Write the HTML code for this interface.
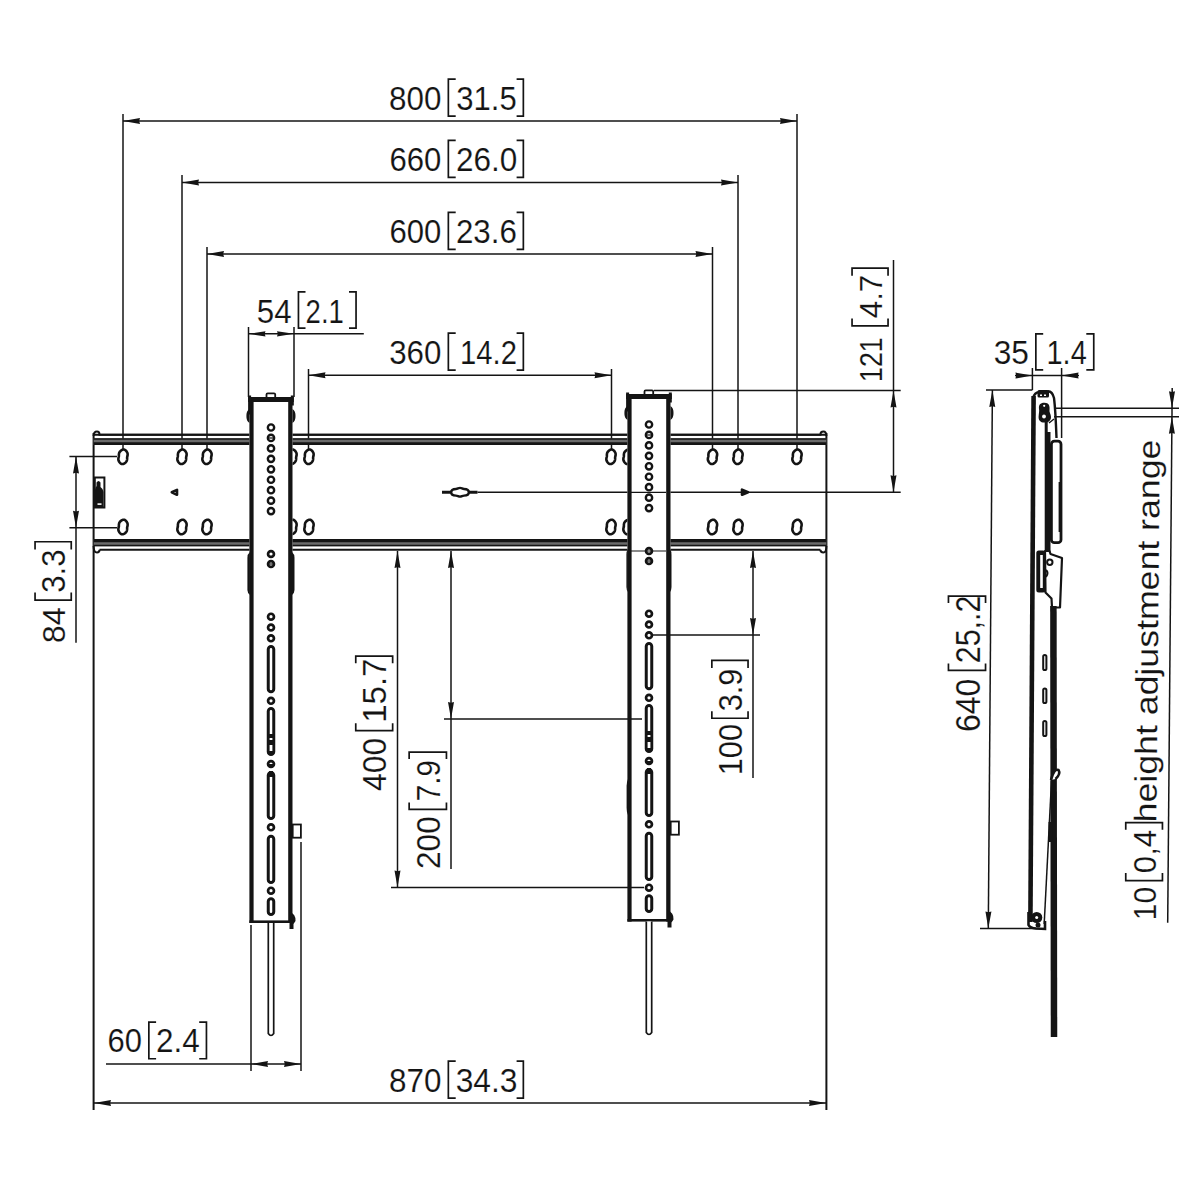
<!DOCTYPE html>
<html><head><meta charset="utf-8"><style>html,body{margin:0;padding:0;background:#fff;}svg{display:block}</style></head>
<body><svg width="1200" height="1200" viewBox="0 0 1200 1200">
<rect width="1200" height="1200" fill="#fff"/>
<line x1="123" y1="114" x2="123" y2="449" stroke="#141414" stroke-width="1.5"/>
<line x1="797" y1="114" x2="797" y2="449" stroke="#141414" stroke-width="1.5"/>
<line x1="123" y1="121" x2="797" y2="121" stroke="#141414" stroke-width="1.5"/>
<path d="M123.00,121.00 L140.00,118.00 L139.20,121.00 L140.00,124.00 Z" fill="#141414"/>
<path d="M797.00,121.00 L780.00,124.00 L780.80,121.00 L780.00,118.00 Z" fill="#141414"/>
<text transform="translate(388.99,109.60) scale(0.9664,1)" font-family="Liberation Sans" fill="#141414" stroke="#fff" stroke-width="0.15" paint-order="fill stroke" font-size="32.48">800</text>
<path d="M455.7,79.05 H448.35 V116.05000000000001 H455.7" fill="none" stroke="#141414" stroke-width="1.7"/>
<text transform="translate(456.26,109.60) scale(0.9558,1)" font-family="Liberation Sans" fill="#141414" stroke="#fff" stroke-width="0.15" paint-order="fill stroke" font-size="32.48">31.5</text>
<path d="M516.6,79.05 H523.35 V116.05000000000001 H516.6" fill="none" stroke="#141414" stroke-width="1.7"/>
<line x1="182" y1="175" x2="182" y2="449" stroke="#141414" stroke-width="1.5"/>
<line x1="738" y1="175" x2="738" y2="449" stroke="#141414" stroke-width="1.5"/>
<line x1="182" y1="182.5" x2="738" y2="182.5" stroke="#141414" stroke-width="1.5"/>
<path d="M182.00,182.50 L199.00,179.50 L198.20,182.50 L199.00,185.50 Z" fill="#141414"/>
<path d="M738.00,182.50 L721.00,185.50 L721.80,182.50 L721.00,179.50 Z" fill="#141414"/>
<text transform="translate(389.44,171.00) scale(0.9333,1)" font-family="Liberation Sans" fill="#141414" stroke="#fff" stroke-width="0.15" paint-order="fill stroke" font-size="33.33">660</text>
<path d="M455.7,140.45 H448.35 V177.45000000000002 H455.7" fill="none" stroke="#141414" stroke-width="1.7"/>
<text transform="translate(455.92,171.00) scale(0.9461,1)" font-family="Liberation Sans" fill="#141414" stroke="#fff" stroke-width="0.15" paint-order="fill stroke" font-size="33.33">26.0</text>
<path d="M516.6,140.45 H523.35 V177.45000000000002 H516.6" fill="none" stroke="#141414" stroke-width="1.7"/>
<line x1="207" y1="247" x2="207" y2="449" stroke="#141414" stroke-width="1.5"/>
<line x1="712.5" y1="247" x2="712.5" y2="449" stroke="#141414" stroke-width="1.5"/>
<line x1="207" y1="254" x2="712.5" y2="254" stroke="#141414" stroke-width="1.5"/>
<path d="M207.00,254.00 L224.00,251.00 L223.20,254.00 L224.00,257.00 Z" fill="#141414"/>
<path d="M712.50,254.00 L695.50,257.00 L696.30,254.00 L695.50,251.00 Z" fill="#141414"/>
<text transform="translate(389.44,243.00) scale(0.9333,1)" font-family="Liberation Sans" fill="#141414" stroke="#fff" stroke-width="0.15" paint-order="fill stroke" font-size="33.33">600</text>
<path d="M455.7,212.45 H448.35 V249.45000000000002 H455.7" fill="none" stroke="#141414" stroke-width="1.7"/>
<text transform="translate(455.94,243.00) scale(0.9389,1)" font-family="Liberation Sans" fill="#141414" stroke="#fff" stroke-width="0.15" paint-order="fill stroke" font-size="33.33">23.6</text>
<path d="M516.6,212.45 H523.35 V249.45000000000002 H516.6" fill="none" stroke="#141414" stroke-width="1.7"/>
<line x1="248.5" y1="327" x2="248.5" y2="397" stroke="#141414" stroke-width="1.5"/>
<line x1="294" y1="327" x2="294" y2="397" stroke="#141414" stroke-width="1.5"/>
<line x1="248.5" y1="333.8" x2="363.8" y2="333.8" stroke="#141414" stroke-width="1.5"/>
<path d="M248.50,333.80 L265.50,331.20 L264.70,333.80 L265.50,336.40 Z" fill="#141414"/>
<path d="M294.00,333.80 L277.00,336.40 L277.80,333.80 L277.00,331.20 Z" fill="#141414"/>
<text transform="translate(256.75,322.50) scale(0.9579,1)" font-family="Liberation Sans" fill="#141414" stroke="#fff" stroke-width="0.15" paint-order="fill stroke" font-size="32.62">54</text>
<path d="M305.5,291.85 H298.45000000000005 V328.15 H305.5" fill="none" stroke="#141414" stroke-width="1.7"/>
<text transform="translate(305.62,322.50) scale(0.8435,1)" font-family="Liberation Sans" fill="#141414" stroke="#fff" stroke-width="0.15" paint-order="fill stroke" font-size="32.62">2.1</text>
<path d="M349,291.85 H356.04999999999995 V328.15 H349" fill="none" stroke="#141414" stroke-width="1.7"/>
<line x1="308.5" y1="369" x2="308.5" y2="449" stroke="#141414" stroke-width="1.5"/>
<line x1="611.5" y1="369" x2="611.5" y2="449" stroke="#141414" stroke-width="1.5"/>
<line x1="308.5" y1="375.3" x2="611.5" y2="375.3" stroke="#141414" stroke-width="1.5"/>
<path d="M308.50,375.30 L325.50,372.30 L324.70,375.30 L325.50,378.30 Z" fill="#141414"/>
<path d="M611.50,375.30 L594.50,378.30 L595.30,375.30 L594.50,372.30 Z" fill="#141414"/>
<text transform="translate(389.15,363.60) scale(0.9348,1)" font-family="Liberation Sans" fill="#141414" stroke="#fff" stroke-width="0.15" paint-order="fill stroke" font-size="33.48">360</text>
<path d="M455.7,333.05 H448.35 V370.04999999999995 H455.7" fill="none" stroke="#141414" stroke-width="1.7"/>
<text transform="translate(460.11,363.60) scale(0.8716,1)" font-family="Liberation Sans" fill="#141414" stroke="#fff" stroke-width="0.15" paint-order="fill stroke" font-size="33.48">14.2</text>
<path d="M516.6,333.05 H523.35 V370.04999999999995 H516.6" fill="none" stroke="#141414" stroke-width="1.7"/>
<line x1="93.6" y1="433" x2="93.6" y2="1110" stroke="#141414" stroke-width="2.0"/>
<line x1="826.4" y1="433" x2="826.4" y2="1110" stroke="#141414" stroke-width="2.0"/>
<path d="M93.6,436 Q93.6,431.5 97,431.5 Q99.5,431.5 99.5,434.7 H820.4 Q820.4,431.5 823.4,431.5 Q826.4,431.5 826.4,436" fill="none" stroke="#141414" stroke-width="2"/>
<line x1="93.6" y1="434.7" x2="826.4" y2="434.7" stroke="#141414" stroke-width="2"/>
<rect x="93.6" y="438.3" width="732.8" height="6.7" fill="#6a6a6a"/>
<line x1="93.6" y1="439" x2="826.4" y2="439" stroke="#141414" stroke-width="1.5"/>
<line x1="93.6" y1="443.6" x2="826.4" y2="443.6" stroke="#141414" stroke-width="2.8"/>
<rect x="93.6" y="539" width="732.8" height="7.3" fill="#6a6a6a"/>
<line x1="93.6" y1="540.6" x2="826.4" y2="540.6" stroke="#141414" stroke-width="3.3"/>
<line x1="93.6" y1="545.5" x2="826.4" y2="545.5" stroke="#141414" stroke-width="1.6"/>
<line x1="99.5" y1="549.7" x2="820.4" y2="549.7" stroke="#141414" stroke-width="2"/>
<path d="M93.6,546 Q93.6,552.5 97,552.5 Q99.5,552.5 99.5,549.7 M820.4,549.7 Q820.4,552.5 823.4,552.5 Q826.4,552.5 826.4,546" fill="none" stroke="#141414" stroke-width="2"/>
<polygon points="127.12,457.31 127.11,458.03 127.14,458.74 127.08,459.44 126.96,460.10 126.80,460.73 126.53,461.32 126.14,461.85 125.69,462.33 125.25,462.76 124.81,463.14 124.37,463.45 123.93,463.71 123.47,463.90 123.02,464.02 122.56,464.07 122.11,464.05 121.67,463.96 121.24,463.80 120.82,463.57 120.43,463.28 120.06,462.93 119.71,462.51 119.38,462.04 119.05,461.52 118.73,460.94 118.48,460.33 118.37,459.70 118.36,459.04 118.40,458.37 118.52,457.68 118.72,457.00 118.88,456.29 118.89,455.57 118.86,454.86 118.92,454.16 119.04,453.50 119.20,452.87 119.47,452.28 119.86,451.75 120.31,451.27 120.75,450.84 121.19,450.46 121.63,450.15 122.07,449.89 122.53,449.70 122.98,449.58 123.44,449.53 123.89,449.55 124.33,449.64 124.76,449.80 125.18,450.03 125.57,450.32 125.94,450.67 126.29,451.09 126.62,451.56 126.95,452.08 127.27,452.66 127.52,453.27 127.63,453.90 127.64,454.56 127.60,455.23 127.48,455.92 127.28,456.60" fill="#fff" stroke="#141414" stroke-width="2.6" stroke-linejoin="round"/>
<polygon points="127.12,527.51 127.11,528.23 127.14,528.94 127.08,529.64 126.96,530.30 126.80,530.93 126.53,531.52 126.14,532.05 125.69,532.53 125.25,532.96 124.81,533.34 124.37,533.65 123.93,533.91 123.47,534.10 123.02,534.22 122.56,534.27 122.11,534.25 121.67,534.16 121.24,534.00 120.82,533.77 120.43,533.48 120.06,533.13 119.71,532.71 119.38,532.24 119.05,531.72 118.73,531.14 118.48,530.53 118.37,529.90 118.36,529.24 118.40,528.57 118.52,527.88 118.72,527.20 118.88,526.49 118.89,525.77 118.86,525.06 118.92,524.36 119.04,523.70 119.20,523.07 119.47,522.48 119.86,521.95 120.31,521.47 120.75,521.04 121.19,520.66 121.63,520.35 122.07,520.09 122.53,519.90 122.98,519.78 123.44,519.73 123.89,519.75 124.33,519.84 124.76,520.00 125.18,520.23 125.57,520.52 125.94,520.87 126.29,521.29 126.62,521.76 126.95,522.28 127.27,522.86 127.52,523.47 127.63,524.10 127.64,524.76 127.60,525.43 127.48,526.12 127.28,526.80" fill="#fff" stroke="#141414" stroke-width="2.6" stroke-linejoin="round"/>
<polygon points="186.12,457.31 186.11,458.03 186.14,458.74 186.08,459.44 185.96,460.10 185.80,460.73 185.53,461.32 185.14,461.85 184.69,462.33 184.25,462.76 183.81,463.14 183.37,463.45 182.93,463.71 182.47,463.90 182.02,464.02 181.56,464.07 181.11,464.05 180.67,463.96 180.24,463.80 179.82,463.57 179.43,463.28 179.06,462.93 178.71,462.51 178.38,462.04 178.05,461.52 177.73,460.94 177.48,460.33 177.37,459.70 177.36,459.04 177.40,458.37 177.52,457.68 177.72,457.00 177.88,456.29 177.89,455.57 177.86,454.86 177.92,454.16 178.04,453.50 178.20,452.87 178.47,452.28 178.86,451.75 179.31,451.27 179.75,450.84 180.19,450.46 180.63,450.15 181.07,449.89 181.53,449.70 181.98,449.58 182.44,449.53 182.89,449.55 183.33,449.64 183.76,449.80 184.18,450.03 184.57,450.32 184.94,450.67 185.29,451.09 185.62,451.56 185.95,452.08 186.27,452.66 186.52,453.27 186.63,453.90 186.64,454.56 186.60,455.23 186.48,455.92 186.28,456.60" fill="#fff" stroke="#141414" stroke-width="2.6" stroke-linejoin="round"/>
<polygon points="186.12,527.51 186.11,528.23 186.14,528.94 186.08,529.64 185.96,530.30 185.80,530.93 185.53,531.52 185.14,532.05 184.69,532.53 184.25,532.96 183.81,533.34 183.37,533.65 182.93,533.91 182.47,534.10 182.02,534.22 181.56,534.27 181.11,534.25 180.67,534.16 180.24,534.00 179.82,533.77 179.43,533.48 179.06,533.13 178.71,532.71 178.38,532.24 178.05,531.72 177.73,531.14 177.48,530.53 177.37,529.90 177.36,529.24 177.40,528.57 177.52,527.88 177.72,527.20 177.88,526.49 177.89,525.77 177.86,525.06 177.92,524.36 178.04,523.70 178.20,523.07 178.47,522.48 178.86,521.95 179.31,521.47 179.75,521.04 180.19,520.66 180.63,520.35 181.07,520.09 181.53,519.90 181.98,519.78 182.44,519.73 182.89,519.75 183.33,519.84 183.76,520.00 184.18,520.23 184.57,520.52 184.94,520.87 185.29,521.29 185.62,521.76 185.95,522.28 186.27,522.86 186.52,523.47 186.63,524.10 186.64,524.76 186.60,525.43 186.48,526.12 186.28,526.80" fill="#fff" stroke="#141414" stroke-width="2.6" stroke-linejoin="round"/>
<polygon points="211.12,457.31 211.11,458.03 211.14,458.74 211.08,459.44 210.96,460.10 210.80,460.73 210.53,461.32 210.14,461.85 209.69,462.33 209.25,462.76 208.81,463.14 208.37,463.45 207.93,463.71 207.47,463.90 207.02,464.02 206.56,464.07 206.11,464.05 205.67,463.96 205.24,463.80 204.82,463.57 204.43,463.28 204.06,462.93 203.71,462.51 203.38,462.04 203.05,461.52 202.73,460.94 202.48,460.33 202.37,459.70 202.36,459.04 202.40,458.37 202.52,457.68 202.72,457.00 202.88,456.29 202.89,455.57 202.86,454.86 202.92,454.16 203.04,453.50 203.20,452.87 203.47,452.28 203.86,451.75 204.31,451.27 204.75,450.84 205.19,450.46 205.63,450.15 206.07,449.89 206.53,449.70 206.98,449.58 207.44,449.53 207.89,449.55 208.33,449.64 208.76,449.80 209.18,450.03 209.57,450.32 209.94,450.67 210.29,451.09 210.62,451.56 210.95,452.08 211.27,452.66 211.52,453.27 211.63,453.90 211.64,454.56 211.60,455.23 211.48,455.92 211.28,456.60" fill="#fff" stroke="#141414" stroke-width="2.6" stroke-linejoin="round"/>
<polygon points="211.12,527.51 211.11,528.23 211.14,528.94 211.08,529.64 210.96,530.30 210.80,530.93 210.53,531.52 210.14,532.05 209.69,532.53 209.25,532.96 208.81,533.34 208.37,533.65 207.93,533.91 207.47,534.10 207.02,534.22 206.56,534.27 206.11,534.25 205.67,534.16 205.24,534.00 204.82,533.77 204.43,533.48 204.06,533.13 203.71,532.71 203.38,532.24 203.05,531.72 202.73,531.14 202.48,530.53 202.37,529.90 202.36,529.24 202.40,528.57 202.52,527.88 202.72,527.20 202.88,526.49 202.89,525.77 202.86,525.06 202.92,524.36 203.04,523.70 203.20,523.07 203.47,522.48 203.86,521.95 204.31,521.47 204.75,521.04 205.19,520.66 205.63,520.35 206.07,520.09 206.53,519.90 206.98,519.78 207.44,519.73 207.89,519.75 208.33,519.84 208.76,520.00 209.18,520.23 209.57,520.52 209.94,520.87 210.29,521.29 210.62,521.76 210.95,522.28 211.27,522.86 211.52,523.47 211.63,524.10 211.64,524.76 211.60,525.43 211.48,526.12 211.28,526.80" fill="#fff" stroke="#141414" stroke-width="2.6" stroke-linejoin="round"/>
<polygon points="296.12,457.31 296.11,458.03 296.14,458.74 296.08,459.44 295.96,460.10 295.80,460.73 295.53,461.32 295.14,461.85 294.69,462.33 294.25,462.76 293.81,463.14 293.37,463.45 292.93,463.71 292.47,463.90 292.02,464.02 291.56,464.07 291.11,464.05 290.67,463.96 290.24,463.80 289.82,463.57 289.43,463.28 289.06,462.93 288.71,462.51 288.38,462.04 288.05,461.52 287.73,460.94 287.48,460.33 287.37,459.70 287.36,459.04 287.40,458.37 287.52,457.68 287.72,457.00 287.88,456.29 287.89,455.57 287.86,454.86 287.92,454.16 288.04,453.50 288.20,452.87 288.47,452.28 288.86,451.75 289.31,451.27 289.75,450.84 290.19,450.46 290.63,450.15 291.07,449.89 291.53,449.70 291.98,449.58 292.44,449.53 292.89,449.55 293.33,449.64 293.76,449.80 294.18,450.03 294.57,450.32 294.94,450.67 295.29,451.09 295.62,451.56 295.95,452.08 296.27,452.66 296.52,453.27 296.63,453.90 296.64,454.56 296.60,455.23 296.48,455.92 296.28,456.60" fill="#fff" stroke="#141414" stroke-width="2.6" stroke-linejoin="round"/>
<polygon points="296.12,527.51 296.11,528.23 296.14,528.94 296.08,529.64 295.96,530.30 295.80,530.93 295.53,531.52 295.14,532.05 294.69,532.53 294.25,532.96 293.81,533.34 293.37,533.65 292.93,533.91 292.47,534.10 292.02,534.22 291.56,534.27 291.11,534.25 290.67,534.16 290.24,534.00 289.82,533.77 289.43,533.48 289.06,533.13 288.71,532.71 288.38,532.24 288.05,531.72 287.73,531.14 287.48,530.53 287.37,529.90 287.36,529.24 287.40,528.57 287.52,527.88 287.72,527.20 287.88,526.49 287.89,525.77 287.86,525.06 287.92,524.36 288.04,523.70 288.20,523.07 288.47,522.48 288.86,521.95 289.31,521.47 289.75,521.04 290.19,520.66 290.63,520.35 291.07,520.09 291.53,519.90 291.98,519.78 292.44,519.73 292.89,519.75 293.33,519.84 293.76,520.00 294.18,520.23 294.57,520.52 294.94,520.87 295.29,521.29 295.62,521.76 295.95,522.28 296.27,522.86 296.52,523.47 296.63,524.10 296.64,524.76 296.60,525.43 296.48,526.12 296.28,526.80" fill="#fff" stroke="#141414" stroke-width="2.6" stroke-linejoin="round"/>
<polygon points="313.12,457.31 313.11,458.03 313.14,458.74 313.08,459.44 312.96,460.10 312.80,460.73 312.53,461.32 312.14,461.85 311.69,462.33 311.25,462.76 310.81,463.14 310.37,463.45 309.93,463.71 309.47,463.90 309.02,464.02 308.56,464.07 308.11,464.05 307.67,463.96 307.24,463.80 306.82,463.57 306.43,463.28 306.06,462.93 305.71,462.51 305.38,462.04 305.05,461.52 304.73,460.94 304.48,460.33 304.37,459.70 304.36,459.04 304.40,458.37 304.52,457.68 304.72,457.00 304.88,456.29 304.89,455.57 304.86,454.86 304.92,454.16 305.04,453.50 305.20,452.87 305.47,452.28 305.86,451.75 306.31,451.27 306.75,450.84 307.19,450.46 307.63,450.15 308.07,449.89 308.53,449.70 308.98,449.58 309.44,449.53 309.89,449.55 310.33,449.64 310.76,449.80 311.18,450.03 311.57,450.32 311.94,450.67 312.29,451.09 312.62,451.56 312.95,452.08 313.27,452.66 313.52,453.27 313.63,453.90 313.64,454.56 313.60,455.23 313.48,455.92 313.28,456.60" fill="#fff" stroke="#141414" stroke-width="2.6" stroke-linejoin="round"/>
<polygon points="313.12,527.51 313.11,528.23 313.14,528.94 313.08,529.64 312.96,530.30 312.80,530.93 312.53,531.52 312.14,532.05 311.69,532.53 311.25,532.96 310.81,533.34 310.37,533.65 309.93,533.91 309.47,534.10 309.02,534.22 308.56,534.27 308.11,534.25 307.67,534.16 307.24,534.00 306.82,533.77 306.43,533.48 306.06,533.13 305.71,532.71 305.38,532.24 305.05,531.72 304.73,531.14 304.48,530.53 304.37,529.90 304.36,529.24 304.40,528.57 304.52,527.88 304.72,527.20 304.88,526.49 304.89,525.77 304.86,525.06 304.92,524.36 305.04,523.70 305.20,523.07 305.47,522.48 305.86,521.95 306.31,521.47 306.75,521.04 307.19,520.66 307.63,520.35 308.07,520.09 308.53,519.90 308.98,519.78 309.44,519.73 309.89,519.75 310.33,519.84 310.76,520.00 311.18,520.23 311.57,520.52 311.94,520.87 312.29,521.29 312.62,521.76 312.95,522.28 313.27,522.86 313.52,523.47 313.63,524.10 313.64,524.76 313.60,525.43 313.48,526.12 313.28,526.80" fill="#fff" stroke="#141414" stroke-width="2.6" stroke-linejoin="round"/>
<polygon points="615.12,457.31 615.11,458.03 615.14,458.74 615.08,459.44 614.96,460.10 614.80,460.73 614.53,461.32 614.14,461.85 613.69,462.33 613.25,462.76 612.81,463.14 612.37,463.45 611.93,463.71 611.47,463.90 611.02,464.02 610.56,464.07 610.11,464.05 609.67,463.96 609.24,463.80 608.82,463.57 608.43,463.28 608.06,462.93 607.71,462.51 607.38,462.04 607.05,461.52 606.73,460.94 606.48,460.33 606.37,459.70 606.36,459.04 606.40,458.37 606.52,457.68 606.72,457.00 606.88,456.29 606.89,455.57 606.86,454.86 606.92,454.16 607.04,453.50 607.20,452.87 607.47,452.28 607.86,451.75 608.31,451.27 608.75,450.84 609.19,450.46 609.63,450.15 610.07,449.89 610.53,449.70 610.98,449.58 611.44,449.53 611.89,449.55 612.33,449.64 612.76,449.80 613.18,450.03 613.57,450.32 613.94,450.67 614.29,451.09 614.62,451.56 614.95,452.08 615.27,452.66 615.52,453.27 615.63,453.90 615.64,454.56 615.60,455.23 615.48,455.92 615.28,456.60" fill="#fff" stroke="#141414" stroke-width="2.6" stroke-linejoin="round"/>
<polygon points="615.12,527.51 615.11,528.23 615.14,528.94 615.08,529.64 614.96,530.30 614.80,530.93 614.53,531.52 614.14,532.05 613.69,532.53 613.25,532.96 612.81,533.34 612.37,533.65 611.93,533.91 611.47,534.10 611.02,534.22 610.56,534.27 610.11,534.25 609.67,534.16 609.24,534.00 608.82,533.77 608.43,533.48 608.06,533.13 607.71,532.71 607.38,532.24 607.05,531.72 606.73,531.14 606.48,530.53 606.37,529.90 606.36,529.24 606.40,528.57 606.52,527.88 606.72,527.20 606.88,526.49 606.89,525.77 606.86,525.06 606.92,524.36 607.04,523.70 607.20,523.07 607.47,522.48 607.86,521.95 608.31,521.47 608.75,521.04 609.19,520.66 609.63,520.35 610.07,520.09 610.53,519.90 610.98,519.78 611.44,519.73 611.89,519.75 612.33,519.84 612.76,520.00 613.18,520.23 613.57,520.52 613.94,520.87 614.29,521.29 614.62,521.76 614.95,522.28 615.27,522.86 615.52,523.47 615.63,524.10 615.64,524.76 615.60,525.43 615.48,526.12 615.28,526.80" fill="#fff" stroke="#141414" stroke-width="2.6" stroke-linejoin="round"/>
<polygon points="632.12,457.31 632.11,458.03 632.14,458.74 632.08,459.44 631.96,460.10 631.80,460.73 631.53,461.32 631.14,461.85 630.69,462.33 630.25,462.76 629.81,463.14 629.37,463.45 628.93,463.71 628.47,463.90 628.02,464.02 627.56,464.07 627.11,464.05 626.67,463.96 626.24,463.80 625.82,463.57 625.43,463.28 625.06,462.93 624.71,462.51 624.38,462.04 624.05,461.52 623.73,460.94 623.48,460.33 623.37,459.70 623.36,459.04 623.40,458.37 623.52,457.68 623.72,457.00 623.88,456.29 623.89,455.57 623.86,454.86 623.92,454.16 624.04,453.50 624.20,452.87 624.47,452.28 624.86,451.75 625.31,451.27 625.75,450.84 626.19,450.46 626.63,450.15 627.07,449.89 627.53,449.70 627.98,449.58 628.44,449.53 628.89,449.55 629.33,449.64 629.76,449.80 630.18,450.03 630.57,450.32 630.94,450.67 631.29,451.09 631.62,451.56 631.95,452.08 632.27,452.66 632.52,453.27 632.63,453.90 632.64,454.56 632.60,455.23 632.48,455.92 632.28,456.60" fill="#fff" stroke="#141414" stroke-width="2.6" stroke-linejoin="round"/>
<polygon points="632.12,527.51 632.11,528.23 632.14,528.94 632.08,529.64 631.96,530.30 631.80,530.93 631.53,531.52 631.14,532.05 630.69,532.53 630.25,532.96 629.81,533.34 629.37,533.65 628.93,533.91 628.47,534.10 628.02,534.22 627.56,534.27 627.11,534.25 626.67,534.16 626.24,534.00 625.82,533.77 625.43,533.48 625.06,533.13 624.71,532.71 624.38,532.24 624.05,531.72 623.73,531.14 623.48,530.53 623.37,529.90 623.36,529.24 623.40,528.57 623.52,527.88 623.72,527.20 623.88,526.49 623.89,525.77 623.86,525.06 623.92,524.36 624.04,523.70 624.20,523.07 624.47,522.48 624.86,521.95 625.31,521.47 625.75,521.04 626.19,520.66 626.63,520.35 627.07,520.09 627.53,519.90 627.98,519.78 628.44,519.73 628.89,519.75 629.33,519.84 629.76,520.00 630.18,520.23 630.57,520.52 630.94,520.87 631.29,521.29 631.62,521.76 631.95,522.28 632.27,522.86 632.52,523.47 632.63,524.10 632.64,524.76 632.60,525.43 632.48,526.12 632.28,526.80" fill="#fff" stroke="#141414" stroke-width="2.6" stroke-linejoin="round"/>
<polygon points="716.62,457.31 716.61,458.03 716.64,458.74 716.58,459.44 716.46,460.10 716.30,460.73 716.03,461.32 715.64,461.85 715.19,462.33 714.75,462.76 714.31,463.14 713.87,463.45 713.43,463.71 712.97,463.90 712.52,464.02 712.06,464.07 711.61,464.05 711.17,463.96 710.74,463.80 710.32,463.57 709.93,463.28 709.56,462.93 709.21,462.51 708.88,462.04 708.55,461.52 708.23,460.94 707.98,460.33 707.87,459.70 707.86,459.04 707.90,458.37 708.02,457.68 708.22,457.00 708.38,456.29 708.39,455.57 708.36,454.86 708.42,454.16 708.54,453.50 708.70,452.87 708.97,452.28 709.36,451.75 709.81,451.27 710.25,450.84 710.69,450.46 711.13,450.15 711.57,449.89 712.03,449.70 712.48,449.58 712.94,449.53 713.39,449.55 713.83,449.64 714.26,449.80 714.68,450.03 715.07,450.32 715.44,450.67 715.79,451.09 716.12,451.56 716.45,452.08 716.77,452.66 717.02,453.27 717.13,453.90 717.14,454.56 717.10,455.23 716.98,455.92 716.78,456.60" fill="#fff" stroke="#141414" stroke-width="2.6" stroke-linejoin="round"/>
<polygon points="716.62,527.51 716.61,528.23 716.64,528.94 716.58,529.64 716.46,530.30 716.30,530.93 716.03,531.52 715.64,532.05 715.19,532.53 714.75,532.96 714.31,533.34 713.87,533.65 713.43,533.91 712.97,534.10 712.52,534.22 712.06,534.27 711.61,534.25 711.17,534.16 710.74,534.00 710.32,533.77 709.93,533.48 709.56,533.13 709.21,532.71 708.88,532.24 708.55,531.72 708.23,531.14 707.98,530.53 707.87,529.90 707.86,529.24 707.90,528.57 708.02,527.88 708.22,527.20 708.38,526.49 708.39,525.77 708.36,525.06 708.42,524.36 708.54,523.70 708.70,523.07 708.97,522.48 709.36,521.95 709.81,521.47 710.25,521.04 710.69,520.66 711.13,520.35 711.57,520.09 712.03,519.90 712.48,519.78 712.94,519.73 713.39,519.75 713.83,519.84 714.26,520.00 714.68,520.23 715.07,520.52 715.44,520.87 715.79,521.29 716.12,521.76 716.45,522.28 716.77,522.86 717.02,523.47 717.13,524.10 717.14,524.76 717.10,525.43 716.98,526.12 716.78,526.80" fill="#fff" stroke="#141414" stroke-width="2.6" stroke-linejoin="round"/>
<polygon points="742.12,457.31 742.11,458.03 742.14,458.74 742.08,459.44 741.96,460.10 741.80,460.73 741.53,461.32 741.14,461.85 740.69,462.33 740.25,462.76 739.81,463.14 739.37,463.45 738.93,463.71 738.47,463.90 738.02,464.02 737.56,464.07 737.11,464.05 736.67,463.96 736.24,463.80 735.82,463.57 735.43,463.28 735.06,462.93 734.71,462.51 734.38,462.04 734.05,461.52 733.73,460.94 733.48,460.33 733.37,459.70 733.36,459.04 733.40,458.37 733.52,457.68 733.72,457.00 733.88,456.29 733.89,455.57 733.86,454.86 733.92,454.16 734.04,453.50 734.20,452.87 734.47,452.28 734.86,451.75 735.31,451.27 735.75,450.84 736.19,450.46 736.63,450.15 737.07,449.89 737.53,449.70 737.98,449.58 738.44,449.53 738.89,449.55 739.33,449.64 739.76,449.80 740.18,450.03 740.57,450.32 740.94,450.67 741.29,451.09 741.62,451.56 741.95,452.08 742.27,452.66 742.52,453.27 742.63,453.90 742.64,454.56 742.60,455.23 742.48,455.92 742.28,456.60" fill="#fff" stroke="#141414" stroke-width="2.6" stroke-linejoin="round"/>
<polygon points="742.12,527.51 742.11,528.23 742.14,528.94 742.08,529.64 741.96,530.30 741.80,530.93 741.53,531.52 741.14,532.05 740.69,532.53 740.25,532.96 739.81,533.34 739.37,533.65 738.93,533.91 738.47,534.10 738.02,534.22 737.56,534.27 737.11,534.25 736.67,534.16 736.24,534.00 735.82,533.77 735.43,533.48 735.06,533.13 734.71,532.71 734.38,532.24 734.05,531.72 733.73,531.14 733.48,530.53 733.37,529.90 733.36,529.24 733.40,528.57 733.52,527.88 733.72,527.20 733.88,526.49 733.89,525.77 733.86,525.06 733.92,524.36 734.04,523.70 734.20,523.07 734.47,522.48 734.86,521.95 735.31,521.47 735.75,521.04 736.19,520.66 736.63,520.35 737.07,520.09 737.53,519.90 737.98,519.78 738.44,519.73 738.89,519.75 739.33,519.84 739.76,520.00 740.18,520.23 740.57,520.52 740.94,520.87 741.29,521.29 741.62,521.76 741.95,522.28 742.27,522.86 742.52,523.47 742.63,524.10 742.64,524.76 742.60,525.43 742.48,526.12 742.28,526.80" fill="#fff" stroke="#141414" stroke-width="2.6" stroke-linejoin="round"/>
<polygon points="801.12,457.31 801.11,458.03 801.14,458.74 801.08,459.44 800.96,460.10 800.80,460.73 800.53,461.32 800.14,461.85 799.69,462.33 799.25,462.76 798.81,463.14 798.37,463.45 797.93,463.71 797.47,463.90 797.02,464.02 796.56,464.07 796.11,464.05 795.67,463.96 795.24,463.80 794.82,463.57 794.43,463.28 794.06,462.93 793.71,462.51 793.38,462.04 793.05,461.52 792.73,460.94 792.48,460.33 792.37,459.70 792.36,459.04 792.40,458.37 792.52,457.68 792.72,457.00 792.88,456.29 792.89,455.57 792.86,454.86 792.92,454.16 793.04,453.50 793.20,452.87 793.47,452.28 793.86,451.75 794.31,451.27 794.75,450.84 795.19,450.46 795.63,450.15 796.07,449.89 796.53,449.70 796.98,449.58 797.44,449.53 797.89,449.55 798.33,449.64 798.76,449.80 799.18,450.03 799.57,450.32 799.94,450.67 800.29,451.09 800.62,451.56 800.95,452.08 801.27,452.66 801.52,453.27 801.63,453.90 801.64,454.56 801.60,455.23 801.48,455.92 801.28,456.60" fill="#fff" stroke="#141414" stroke-width="2.6" stroke-linejoin="round"/>
<polygon points="801.12,527.51 801.11,528.23 801.14,528.94 801.08,529.64 800.96,530.30 800.80,530.93 800.53,531.52 800.14,532.05 799.69,532.53 799.25,532.96 798.81,533.34 798.37,533.65 797.93,533.91 797.47,534.10 797.02,534.22 796.56,534.27 796.11,534.25 795.67,534.16 795.24,534.00 794.82,533.77 794.43,533.48 794.06,533.13 793.71,532.71 793.38,532.24 793.05,531.72 792.73,531.14 792.48,530.53 792.37,529.90 792.36,529.24 792.40,528.57 792.52,527.88 792.72,527.20 792.88,526.49 792.89,525.77 792.86,525.06 792.92,524.36 793.04,523.70 793.20,523.07 793.47,522.48 793.86,521.95 794.31,521.47 794.75,521.04 795.19,520.66 795.63,520.35 796.07,520.09 796.53,519.90 796.98,519.78 797.44,519.73 797.89,519.75 798.33,519.84 798.76,520.00 799.18,520.23 799.57,520.52 799.94,520.87 800.29,521.29 800.62,521.76 800.95,522.28 801.27,522.86 801.52,523.47 801.63,524.10 801.64,524.76 801.60,525.43 801.48,526.12 801.28,526.80" fill="#fff" stroke="#141414" stroke-width="2.6" stroke-linejoin="round"/>
<path d="M171.8,492.3 L177,489.9 L177,494.7 Z" fill="#fff" stroke="#141414" stroke-width="2.6" stroke-linejoin="round"/>
<path d="M748,492.2 L742,489.6 L742,494.8 Z" fill="#141414" stroke="#141414" stroke-width="2.6" stroke-linejoin="round"/>
<line x1="442" y1="492.3" x2="477.5" y2="492.3" stroke="#141414" stroke-width="3"/>
<path d="M451.2,492.3 C451.2,489.5 453.5,489 456,489 C457.5,489 458.5,487.9 460,487.9 C461.5,487.9 462.5,489 464,489 C466.5,489 468.8,489.5 468.8,492.3 C468.8,495 466.5,495.6 464,495.6 C462.5,495.6 461.5,496.6 460,496.6 C458.5,496.6 457.5,495.6 456,495.6 C453.5,495.6 451.2,495 451.2,492.3 Z" fill="#fff" stroke="#141414" stroke-width="2.4"/>
<line x1="477.5" y1="492.3" x2="900.7" y2="492.3" stroke="#141414" stroke-width="1.5"/>
<rect x="94.8" y="477.5" width="9.6" height="30" fill="#fff" stroke="#141414" stroke-width="2"/>
<path d="M95,507 V490 Q95.5,487.5 96.5,486 V482.5 Q98.5,479.5 100.5,482.5 V487 Q103.5,489 103.5,492 V507 Z" fill="#141414"/>
<rect x="97.5" y="503.3" width="4" height="1.6" fill="#fff"/>
<rect x="249.4" y="397" width="43.099999999999994" height="526" fill="#fff"/>
<rect x="249.4" y="397" width="4.2" height="526" fill="#141414"/>
<rect x="288.2" y="397" width="4.3" height="526" fill="#141414"/>
<rect x="248.1" y="397" width="45.699999999999996" height="5" fill="#141414"/>
<rect x="248.1" y="395.5" width="3" height="19" fill="#141414"/>
<rect x="290.8" y="395.5" width="3" height="10" fill="#141414"/>
<path d="M266.5,397 V394.5 Q266.5,393.3 267.7,393.3 H274 Q275.2,393.3 275.2,394.5 V397" fill="#fff" stroke="#141414" stroke-width="1.8"/>
<path d="M249.4,409 Q246.20000000000002,411 246.4,416 Q246.20000000000002,421 249.4,423 Z" fill="#141414"/>
<path d="M292.5,409 Q295.7,411 295.5,416 Q295.7,421 292.5,423 Z" fill="#141414"/>
<path d="M249.9,552 Q247.4,554 247.4,558 V590 Q247.4,593 249.9,595 Z" fill="#141414"/>
<path d="M292.0,552 Q294.5,554 294.5,558 V590 Q294.5,593 292.0,595 Z" fill="#141414"/>
<circle cx="271" cy="427.50" r="3.15" fill="#fff" stroke="#141414" stroke-width="2.4"/>
<circle cx="271" cy="437.95" r="3.15" fill="#fff" stroke="#141414" stroke-width="2.4"/>
<circle cx="271" cy="448.40" r="3.15" fill="#fff" stroke="#141414" stroke-width="2.4"/>
<circle cx="271" cy="458.85" r="3.15" fill="#fff" stroke="#141414" stroke-width="2.4"/>
<circle cx="271" cy="469.30" r="3.15" fill="#fff" stroke="#141414" stroke-width="2.4"/>
<circle cx="271" cy="479.75" r="3.15" fill="#fff" stroke="#141414" stroke-width="2.4"/>
<circle cx="271" cy="490.20" r="3.15" fill="#fff" stroke="#141414" stroke-width="2.4"/>
<circle cx="271" cy="500.65" r="3.15" fill="#fff" stroke="#141414" stroke-width="2.4"/>
<circle cx="271" cy="511.10" r="3.15" fill="#fff" stroke="#141414" stroke-width="2.4"/>
<rect x="268.5" y="437.4" width="5" height="1.2" fill="#141414"/>
<circle cx="271" cy="554" r="2.95" fill="#fff" stroke="#141414" stroke-width="2.7"/>
<circle cx="271" cy="564" r="2.95" fill="#fff" stroke="#141414" stroke-width="2.7"/>
<circle cx="271" cy="616.7" r="2.95" fill="#fff" stroke="#141414" stroke-width="2.7"/>
<circle cx="271" cy="627.5" r="2.95" fill="#fff" stroke="#141414" stroke-width="2.7"/>
<circle cx="271" cy="638.3" r="2.95" fill="#fff" stroke="#141414" stroke-width="2.7"/>
<circle cx="271" cy="700.8" r="2.95" fill="#fff" stroke="#141414" stroke-width="2.7"/>
<circle cx="271" cy="764" r="2.95" fill="#fff" stroke="#141414" stroke-width="2.7"/>
<circle cx="271" cy="827.3" r="2.95" fill="#fff" stroke="#141414" stroke-width="2.7"/>
<circle cx="271" cy="890.7" r="2.95" fill="#fff" stroke="#141414" stroke-width="2.7"/>
<rect x="268.8" y="563.4" width="4.4" height="1.2" fill="#141414"/>
<rect x="268.25" y="646.5" width="5.5" height="45.299999999999955" rx="2.75" fill="#fff" stroke="#141414" stroke-width="3"/>
<rect x="268.25" y="708.5" width="5.5" height="46" rx="2.75" fill="#fff" stroke="#141414" stroke-width="3"/>
<rect x="268.25" y="772.5" width="5.5" height="46" rx="2.75" fill="#fff" stroke="#141414" stroke-width="3"/>
<rect x="268.25" y="836.2" width="5.5" height="46.299999999999955" rx="2.75" fill="#fff" stroke="#141414" stroke-width="3"/>
<rect x="268.25" y="898.8" width="5.5" height="15.700000000000045" rx="2.75" fill="#fff" stroke="#141414" stroke-width="3"/>
<rect x="269" y="734" width="4" height="20" fill="#141414"/>
<rect x="269.6" y="738" width="2.8" height="2" fill="#fff"/>
<rect x="269.6" y="745" width="2.8" height="6" fill="#fff"/>
<rect x="269" y="771" width="4" height="6" fill="#141414"/>
<rect x="268.8" y="764" width="4.4" height="2.5" fill="#141414"/>
<rect x="249.4" y="920.4" width="43.099999999999994" height="2.6" fill="#141414"/>
<path d="M289.5,912 Q296.0,914 295.5,921 L293.5,924 V929 H289.5 Z" fill="#141414"/>
<rect x="292.7" y="824.5" width="8.2" height="13.2" fill="#fff" stroke="#141414" stroke-width="1.8"/>
<path d="M268.3,923 V1033.5 Q271,1037.5 273.7,1033.5 V923" fill="#fff" stroke="#141414" stroke-width="1.7"/>
<rect x="627.4" y="394" width="43.10000000000002" height="527.6" fill="#fff"/>
<rect x="627.4" y="394" width="4.2" height="527.6" fill="#141414"/>
<rect x="666.2" y="394" width="4.3" height="527.6" fill="#141414"/>
<rect x="626.1" y="394" width="45.700000000000024" height="5" fill="#141414"/>
<rect x="626.1" y="392.5" width="3" height="19" fill="#141414"/>
<rect x="668.8" y="392.5" width="3" height="10" fill="#141414"/>
<path d="M644.5,394 V391.5 Q644.5,390.3 645.7,390.3 H652 Q653.2,390.3 653.2,391.5 V394" fill="#fff" stroke="#141414" stroke-width="1.8"/>
<path d="M627.4,406 Q624.1999999999999,408 624.4,413 Q624.1999999999999,418 627.4,420 Z" fill="#141414"/>
<path d="M670.5,406 Q673.7,408 673.5,413 Q673.7,418 670.5,420 Z" fill="#141414"/>
<path d="M627.9,549 Q626.4,551 626.4,555 V587 Q626.4,590 627.9,592 Z" fill="#141414"/>
<path d="M670.0,549 Q671.5,551 671.5,555 V587 Q671.5,590 670.0,592 Z" fill="#141414"/>
<circle cx="649" cy="424.50" r="3.15" fill="#fff" stroke="#141414" stroke-width="2.4"/>
<circle cx="649" cy="434.95" r="3.15" fill="#fff" stroke="#141414" stroke-width="2.4"/>
<circle cx="649" cy="445.40" r="3.15" fill="#fff" stroke="#141414" stroke-width="2.4"/>
<circle cx="649" cy="455.85" r="3.15" fill="#fff" stroke="#141414" stroke-width="2.4"/>
<circle cx="649" cy="466.30" r="3.15" fill="#fff" stroke="#141414" stroke-width="2.4"/>
<circle cx="649" cy="476.75" r="3.15" fill="#fff" stroke="#141414" stroke-width="2.4"/>
<circle cx="649" cy="487.20" r="3.15" fill="#fff" stroke="#141414" stroke-width="2.4"/>
<circle cx="649" cy="497.65" r="3.15" fill="#fff" stroke="#141414" stroke-width="2.4"/>
<circle cx="649" cy="508.10" r="3.15" fill="#fff" stroke="#141414" stroke-width="2.4"/>
<rect x="646.5" y="434.4" width="5" height="1.2" fill="#141414"/>
<circle cx="649" cy="551" r="2.95" fill="#fff" stroke="#141414" stroke-width="2.7"/>
<circle cx="649" cy="561" r="2.95" fill="#fff" stroke="#141414" stroke-width="2.7"/>
<circle cx="649" cy="613.7" r="2.95" fill="#fff" stroke="#141414" stroke-width="2.7"/>
<circle cx="649" cy="624.5" r="2.95" fill="#fff" stroke="#141414" stroke-width="2.7"/>
<circle cx="649" cy="635.3" r="2.95" fill="#fff" stroke="#141414" stroke-width="2.7"/>
<circle cx="649" cy="697.8" r="2.95" fill="#fff" stroke="#141414" stroke-width="2.7"/>
<circle cx="649" cy="761" r="2.95" fill="#fff" stroke="#141414" stroke-width="2.7"/>
<circle cx="649" cy="824.3" r="2.95" fill="#fff" stroke="#141414" stroke-width="2.7"/>
<circle cx="649" cy="887.7" r="2.95" fill="#fff" stroke="#141414" stroke-width="2.7"/>
<rect x="646.8" y="560.4" width="4.4" height="1.2" fill="#141414"/>
<rect x="646.25" y="643.5" width="5.5" height="45.299999999999955" rx="2.75" fill="#fff" stroke="#141414" stroke-width="3"/>
<rect x="646.25" y="705.5" width="5.5" height="46" rx="2.75" fill="#fff" stroke="#141414" stroke-width="3"/>
<rect x="646.25" y="769.5" width="5.5" height="46" rx="2.75" fill="#fff" stroke="#141414" stroke-width="3"/>
<rect x="646.25" y="833.2" width="5.5" height="46.299999999999955" rx="2.75" fill="#fff" stroke="#141414" stroke-width="3"/>
<rect x="646.25" y="895.8" width="5.5" height="15.700000000000045" rx="2.75" fill="#fff" stroke="#141414" stroke-width="3"/>
<rect x="647" y="731" width="4" height="20" fill="#141414"/>
<rect x="647.6" y="735" width="2.8" height="2" fill="#fff"/>
<rect x="647.6" y="742" width="2.8" height="6" fill="#fff"/>
<rect x="647" y="768" width="4" height="6" fill="#141414"/>
<rect x="646.8" y="761" width="4.4" height="2.5" fill="#141414"/>
<rect x="627.4" y="919.0" width="43.10000000000002" height="2.6" fill="#141414"/>
<path d="M667.5,910.6 Q674.0,912.6 673.5,919.6 L671.5,922.6 V927.6 H667.5 Z" fill="#141414"/>
<rect x="670.7" y="821.5" width="8.2" height="13.2" fill="#fff" stroke="#141414" stroke-width="1.8"/>
<path d="M646.3,921.6 V1032.5 Q649,1036.5 651.7,1032.5 V921.6" fill="#fff" stroke="#141414" stroke-width="1.7"/>
<line x1="631" y1="492.3" x2="666" y2="492.3" stroke="#141414" stroke-width="1.3"/>
<path d="M628,779 Q626.6,782 626.6,786 V808 Q626.6,812 628,815 Z" fill="#141414"/>
<line x1="631" y1="551" x2="666" y2="551" stroke="#141414" stroke-width="1.1"/>
<line x1="654" y1="390.5" x2="900.7" y2="390.5" stroke="#141414" stroke-width="1.5"/>
<line x1="397.5" y1="551" x2="397.5" y2="887.5" stroke="#141414" stroke-width="1.5"/>
<path d="M397.50,551.00 L400.50,568.00 L397.50,567.20 L394.50,568.00 Z" fill="#141414"/>
<path d="M397.50,887.50 L394.50,870.50 L397.50,871.30 L400.50,870.50 Z" fill="#141414"/>
<line x1="391" y1="887.5" x2="644" y2="887.5" stroke="#141414" stroke-width="1.5"/>
<text transform="translate(386.10,790.89) rotate(-90) scale(0.9690,1)" font-family="Liberation Sans" fill="#141414" stroke="#fff" stroke-width="0.15" paint-order="fill stroke" font-size="32.77">400</text>
<path d="M355.75,723.3 V730.65 H392.65 V723.3" fill="none" stroke="#141414" stroke-width="1.7"/>
<text transform="translate(386.10,722.77) rotate(-90) scale(1.0061,1)" font-family="Liberation Sans" fill="#141414" stroke="#fff" stroke-width="0.15" paint-order="fill stroke" font-size="32.77">15.7</text>
<path d="M355.75,663.3 V656.0500000000001 H392.65 V663.3" fill="none" stroke="#141414" stroke-width="1.7"/>
<line x1="451" y1="551" x2="451" y2="869" stroke="#141414" stroke-width="1.5"/>
<path d="M451.00,551.00 L454.00,568.00 L451.00,567.20 L448.00,568.00 Z" fill="#141414"/>
<path d="M451.00,719.00 L448.00,702.00 L451.00,702.80 L454.00,702.00 Z" fill="#141414"/>
<line x1="444" y1="719" x2="642" y2="719" stroke="#141414" stroke-width="1.5"/>
<text transform="translate(439.75,868.98) rotate(-90) scale(0.9588,1)" font-family="Liberation Sans" fill="#141414" stroke="#fff" stroke-width="0.15" paint-order="fill stroke" font-size="32.98">200</text>
<path d="M409.15000000000003,802.4 V809.4499999999999 H446.45 V802.4" fill="none" stroke="#141414" stroke-width="1.7"/>
<text transform="translate(439.75,801.18) rotate(-90) scale(0.8991,1)" font-family="Liberation Sans" fill="#141414" stroke="#fff" stroke-width="0.15" paint-order="fill stroke" font-size="32.98">7.9</text>
<path d="M409.15000000000003,759.1 V752.0500000000001 H446.45 V759.1" fill="none" stroke="#141414" stroke-width="1.7"/>
<line x1="753" y1="551" x2="753" y2="778" stroke="#141414" stroke-width="1.5"/>
<path d="M753.00,551.00 L756.00,568.00 L753.00,567.20 L750.00,568.00 Z" fill="#141414"/>
<path d="M753.00,635.00 L750.00,618.00 L753.00,618.80 L756.00,618.00 Z" fill="#141414"/>
<line x1="653" y1="635" x2="760" y2="635" stroke="#141414" stroke-width="1.5"/>
<text transform="translate(741.80,775.31) rotate(-90) scale(0.9312,1)" font-family="Liberation Sans" fill="#141414" stroke="#fff" stroke-width="0.15" paint-order="fill stroke" font-size="33.05">100</text>
<path d="M711.85,711.2 V718.25 H748.05 V711.2" fill="none" stroke="#141414" stroke-width="1.7"/>
<text transform="translate(741.80,711.33) rotate(-90) scale(0.9298,1)" font-family="Liberation Sans" fill="#141414" stroke="#fff" stroke-width="0.15" paint-order="fill stroke" font-size="33.05">3.9</text>
<path d="M711.85,667.9 V660.35 H748.05 V667.9" fill="none" stroke="#141414" stroke-width="1.7"/>
<line x1="893.5" y1="260" x2="893.5" y2="492.3" stroke="#141414" stroke-width="1.5"/>
<path d="M893.50,390.50 L896.50,407.50 L893.50,406.70 L890.50,407.50 Z" fill="#141414"/>
<path d="M893.50,492.30 L890.50,475.30 L893.50,476.10 L896.50,475.30 Z" fill="#141414"/>
<text transform="translate(882.00,381.90) rotate(-90) scale(0.8400,1)" font-family="Liberation Sans" fill="#141414" stroke="#fff" stroke-width="0.15" paint-order="fill stroke" font-size="31.77">121</text>
<path d="M852.0500000000001,318.5 V325.84999999999997 H888.05 V318.5" fill="none" stroke="#141414" stroke-width="1.7"/>
<text transform="translate(882.00,318.18) rotate(-90) scale(0.9813,1)" font-family="Liberation Sans" fill="#141414" stroke="#fff" stroke-width="0.15" paint-order="fill stroke" font-size="31.77">4.7</text>
<path d="M852.0500000000001,275.8 V268.05 H888.05 V275.8" fill="none" stroke="#141414" stroke-width="1.7"/>
<line x1="76" y1="456.5" x2="76" y2="642.75" stroke="#141414" stroke-width="1.5"/>
<path d="M76.00,456.50 L79.00,473.50 L76.00,472.70 L73.00,473.50 Z" fill="#141414"/>
<path d="M76.00,527.70 L73.00,510.70 L76.00,511.50 L79.00,510.70 Z" fill="#141414"/>
<line x1="69.4" y1="456.5" x2="117" y2="456.5" stroke="#141414" stroke-width="1.5"/>
<line x1="69.4" y1="527.7" x2="117" y2="527.7" stroke="#141414" stroke-width="1.5"/>
<text transform="translate(64.90,643.26) rotate(-90) scale(1.0142,1)" font-family="Liberation Sans" fill="#141414" stroke="#fff" stroke-width="0.15" paint-order="fill stroke" font-size="31.91">84</text>
<path d="M35.050000000000004,592.5 V600.15 H71.25 V592.5" fill="none" stroke="#141414" stroke-width="1.7"/>
<text transform="translate(65.20,592.75) rotate(-90) scale(0.9644,1)" font-family="Liberation Sans" fill="#141414" stroke="#fff" stroke-width="0.15" paint-order="fill stroke" font-size="32.34">3.3</text>
<path d="M35.050000000000004,549.4 V541.75 H71.25 V549.4" fill="none" stroke="#141414" stroke-width="1.7"/>
<line x1="251" y1="925" x2="251" y2="1071" stroke="#141414" stroke-width="1.5"/>
<line x1="301" y1="842" x2="301" y2="1071" stroke="#141414" stroke-width="1.5"/>
<line x1="106" y1="1064" x2="301" y2="1064" stroke="#141414" stroke-width="1.5"/>
<path d="M251.00,1064.00 L268.00,1061.00 L267.20,1064.00 L268.00,1067.00 Z" fill="#141414"/>
<path d="M301.00,1064.00 L284.00,1067.00 L284.80,1064.00 L284.00,1061.00 Z" fill="#141414"/>
<text transform="translate(107.55,1051.90) scale(0.9496,1)" font-family="Liberation Sans" fill="#141414" stroke="#fff" stroke-width="0.15" paint-order="fill stroke" font-size="32.62">60</text>
<path d="M156.1,1022.0500000000001 H148.85 V1058.75 H156.1" fill="none" stroke="#141414" stroke-width="1.7"/>
<text transform="translate(155.93,1051.90) scale(0.9652,1)" font-family="Liberation Sans" fill="#141414" stroke="#fff" stroke-width="0.15" paint-order="fill stroke" font-size="32.62">2.4</text>
<path d="M199.2,1022.0500000000001 H206.45000000000002 V1058.75 H199.2" fill="none" stroke="#141414" stroke-width="1.7"/>
<line x1="94" y1="1103" x2="826" y2="1103" stroke="#141414" stroke-width="1.5"/>
<path d="M94.00,1103.00 L111.00,1100.00 L110.20,1103.00 L111.00,1106.00 Z" fill="#141414"/>
<path d="M826.00,1103.00 L809.00,1106.00 L809.80,1103.00 L809.00,1100.00 Z" fill="#141414"/>
<text transform="translate(388.99,1091.60) scale(0.9378,1)" font-family="Liberation Sans" fill="#141414" stroke="#fff" stroke-width="0.15" paint-order="fill stroke" font-size="33.48">870</text>
<path d="M455.7,1061.05 H448.35 V1098.0500000000002 H455.7" fill="none" stroke="#141414" stroke-width="1.7"/>
<text transform="translate(455.63,1091.60) scale(0.9492,1)" font-family="Liberation Sans" fill="#141414" stroke="#fff" stroke-width="0.15" paint-order="fill stroke" font-size="33.48">34.3</text>
<path d="M516.6,1061.05 H523.35 V1098.0500000000002 H516.6" fill="none" stroke="#141414" stroke-width="1.7"/>
<line x1="1015" y1="375.6" x2="1079" y2="375.6" stroke="#141414" stroke-width="1.5"/>
<path d="M1032.40,375.60 L1015.40,378.60 L1016.20,375.60 L1015.40,372.60 Z" fill="#141414"/>
<path d="M1061.60,375.60 L1078.60,372.60 L1077.80,375.60 L1078.60,378.60 Z" fill="#141414"/>
<line x1="1032.4" y1="368" x2="1032.4" y2="390" stroke="#141414" stroke-width="1.5"/>
<line x1="1061.6" y1="368" x2="1061.6" y2="438" stroke="#141414" stroke-width="1.5"/>
<text transform="translate(993.73,364.20) scale(0.9536,1)" font-family="Liberation Sans" fill="#141414" stroke="#fff" stroke-width="0.15" paint-order="fill stroke" font-size="33.19">35</text>
<path d="M1043.2,333.85 H1035.85 V369.84999999999997 H1043.2" fill="none" stroke="#141414" stroke-width="1.7"/>
<text transform="translate(1046.53,364.20) scale(0.8722,1)" font-family="Liberation Sans" fill="#141414" stroke="#fff" stroke-width="0.15" paint-order="fill stroke" font-size="33.19">1.4</text>
<path d="M1086.3,333.85 H1093.75 V369.84999999999997 H1086.3" fill="none" stroke="#141414" stroke-width="1.7"/>
<line x1="992.4" y1="390" x2="988.3" y2="928.5" stroke="#141414" stroke-width="1.5"/>
<path d="M992.40,390.00 L995.27,407.02 L992.28,406.20 L989.27,406.98 Z" fill="#141414"/>
<path d="M988.30,928.50 L985.43,911.48 L988.42,912.30 L991.43,911.52 Z" fill="#141414"/>
<line x1="986" y1="390" x2="1032.4" y2="390" stroke="#141414" stroke-width="1.5"/>
<line x1="980" y1="928.5" x2="1040" y2="928.5" stroke="#141414" stroke-width="1.5"/>
<text transform="translate(979.50,732.11) rotate(-90) scale(0.9283,1)" font-family="Liberation Sans" fill="#141414" stroke="#fff" stroke-width="0.15" paint-order="fill stroke" font-size="34.61">640</text>
<path d="M948.45,663.6 V670.4499999999999 H985.55 V663.6" fill="none" stroke="#141414" stroke-width="1.7"/>
<text transform="translate(979.50,663.27) rotate(-90) scale(0.8804,1)" font-family="Liberation Sans" fill="#141414" stroke="#fff" stroke-width="0.15" paint-order="fill stroke" font-size="34.61">25,.2</text>
<path d="M948.45,603 V596.15 H985.55 V603" fill="none" stroke="#141414" stroke-width="1.7"/>
<line x1="1054" y1="408.3" x2="1179" y2="408.3" stroke="#141414" stroke-width="1.5"/>
<line x1="1054" y1="416.8" x2="1179" y2="416.8" stroke="#141414" stroke-width="1.5"/>
<line x1="1172.2" y1="388" x2="1167.7" y2="922.8" stroke="#141414" stroke-width="1.5"/>
<path d="M1172.00,408.30 L1169.00,391.30 L1172.00,392.10 L1175.00,391.30 Z" fill="#141414"/>
<path d="M1171.90,416.80 L1174.90,433.80 L1171.90,433.00 L1168.90,433.80 Z" fill="#141414"/>
<text transform="translate(1155.75,920.25) rotate(-90) scale(0.9281,1)" font-family="Liberation Sans" fill="#141414" stroke="#fff" stroke-width="0.15" paint-order="fill stroke" font-size="32.27">10</text>
<path d="M1125.75,873 V880.55 H1162.45 V873" fill="none" stroke="#141414" stroke-width="1.7"/>
<text transform="translate(1155.75,873.15) rotate(-90) scale(0.9661,1)" font-family="Liberation Sans" fill="#141414" stroke="#fff" stroke-width="0.15" paint-order="fill stroke" font-size="32.27">0,4</text>
<path d="M1125.75,829.7 V822.65 H1162.45 V829.7" fill="none" stroke="#141414" stroke-width="1.7"/>
<text transform="translate(1156.30,822.40) rotate(-89.46) scale(1.1429,1)" font-family="Liberation Sans" fill="#141414" stroke="#fff" stroke-width="0.15" paint-order="fill stroke" font-size="31.23">height adjustment range</text>
<path d="M1033.6,396 L1030.4,922" stroke="#141414" stroke-width="4.6" fill="none"/>
<path d="M1033.2,398 Q1034.5,392.5 1039,392.3" stroke="#141414" stroke-width="2.4" fill="none"/>
<rect x="1037.5" y="390" width="11.5" height="7.5" rx="1.5" fill="#141414"/>
<rect x="1040" y="394.5" width="2" height="1.5" fill="#fff"/><rect x="1044" y="394.5" width="2" height="1.5" fill="#fff"/>
<path d="M1048,391.2 Q1052.5,391.5 1054,398 Q1055.5,410 1056.5,438" stroke="#141414" stroke-width="2.4" fill="none"/>
<path d="M1044.5,402.8 C1049,402.8 1050,406 1049.5,410 C1049,412 1051,414 1051,417 C1051,421 1048,422.6 1044.5,422.6 C1040,422.6 1038.4,420 1038.6,416.5 C1038.8,413 1039.5,411 1039,409 C1038.6,405 1040,402.8 1044.5,402.8 Z" fill="#141414"/>
<circle cx="1044.2" cy="405.8" r="1.1" fill="#fff"/><circle cx="1044" cy="416.5" r="1.9" fill="#fff"/>
<path d="M1049,423 L1054,419" stroke="#141414" stroke-width="1.5" fill="none"/>
<path d="M1046.2,422 V552" stroke="#141414" stroke-width="3" fill="none"/>
<rect x="1046" y="432" width="4.5" height="120" fill="#141414"/>
<rect x="1051.4" y="441.2" width="9.6" height="101.5" rx="3" fill="#fff" stroke="#141414" stroke-width="2.8"/>
<rect x="1058.6" y="482" width="2.2" height="50" fill="#141414"/>
<path d="M1045,551 H1049.5 L1050.5,554 L1062,558 L1060,607.5 H1052 L1051.5,598.5 L1045.5,592.5 Z" fill="#fff" stroke="#141414" stroke-width="2.2" stroke-linejoin="round"/>
<rect x="1036.3" y="550.5" width="9.2" height="42" rx="2.5" fill="#141414"/>
<rect x="1040.2" y="555" width="2.6" height="33" fill="#fff"/>
<circle cx="1049.8" cy="562.3" r="2.7" fill="#fff" stroke="#141414" stroke-width="2"/>
<path d="M1046,570 Q1049,573 1046,577" stroke="#141414" stroke-width="2" fill="none"/>
<path d="M1053.4,606 L1054,1037" stroke="#141414" stroke-width="6.5" fill="none"/>
<rect x="1043.2" y="655" width="3.2" height="15" rx="1.6" fill="#fff" stroke="#141414" stroke-width="2"/>
<rect x="1043.2" y="688.5" width="3.2" height="14.5" rx="1.6" fill="#fff" stroke="#141414" stroke-width="2"/>
<rect x="1043.2" y="721" width="3.2" height="15" rx="1.6" fill="#fff" stroke="#141414" stroke-width="2"/>
<path d="M1051,780 Q1054,768 1058.5,770 Q1061,774 1055.5,779" stroke="#141414" stroke-width="2.6" fill="#fff"/>
<path d="M1051.5,781 L1044.2,924" stroke="#141414" stroke-width="1.5" fill="none"/>
<rect x="1048.5" y="822" width="3.6" height="20" fill="#141414"/>
<path d="M1028.5,912 L1028.5,925 Q1030,928 1036,928.5 L1045,929 L1045,921" stroke="#141414" stroke-width="2.6" fill="none"/>
<circle cx="1036.7" cy="917.5" r="5.6" fill="#141414"/><circle cx="1036.7" cy="917.5" r="1.5" fill="#fff"/>
<circle cx="1038" cy="925" r="2.5" fill="#141414"/>
</svg></body></html>
